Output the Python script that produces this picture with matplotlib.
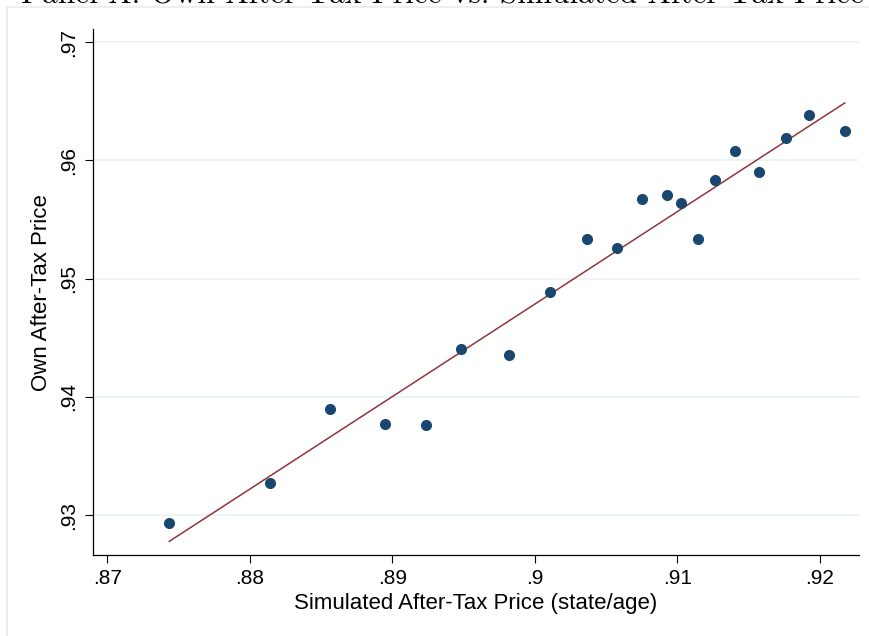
import numpy as np
import matplotlib
matplotlib.use('Agg')
import matplotlib.pyplot as plt
from matplotlib.patches import Rectangle

# binned scatter values
sim_price = [0.87435, 0.88142, 0.88561, 0.88947, 0.89237, 0.89480, 0.89821,
             0.90107, 0.90368, 0.90577, 0.90754, 0.90928, 0.91028, 0.91143,
             0.91267, 0.91407, 0.91575, 0.91763, 0.91926, 0.92175]
own_price = [0.92930, 0.93268, 0.93900, 0.93773, 0.93764, 0.94407, 0.94354,
             0.94890, 0.95338, 0.95259, 0.95676, 0.95708, 0.95643, 0.95333,
             0.95835, 0.96080, 0.95905, 0.96190, 0.96387, 0.96249]

xticks = [0.87, 0.88, 0.89, 0.90, 0.91, 0.92]
xtick_labels = ['.87', '.88', '.89', '.9', '.91', '.92']
yticks = [0.93, 0.94, 0.95, 0.96, 0.97]
ytick_labels = ['.93', '.94', '.95', '.96', '.97']

title = 'Panel A: Own After-Tax Price vs. Simulated After-Tax Price'

navy = '#1a476f'
maroon = '#90353b'
gridc = '#eaf2f3'

plt.rcParams['font.family'] = ['Liberation Sans', 'DejaVu Sans']

fig = plt.figure(figsize=(8.69, 6.36), dpi=100)
fig.patch.set_facecolor('white')

# light outer frame (graph region outline)
fig.patches.append(Rectangle((7.5 / 869, -0.2), 1.5, 1.2 - 6.5 / 636,
                             transform=fig.transFigure, fill=False,
                             edgecolor='#e6eef0', linewidth=1.2))

ax = fig.add_axes([93.3 / 869, 81 / 636, (858.7 - 93.3) / 869, (555 - 29.3) / 636])

x = np.array(sim_price)
y = np.array(own_price)

# linear fit line
b, a = np.polyfit(x, y, 1)
xs = np.array([x.min(), x.max()])
ax.plot(xs, a + b * xs, color=maroon, linewidth=1.1, zorder=2)

ax.plot(x, y, 'o', color=navy, markersize=8, markeredgewidth=0, zorder=3)

ax.set_xlim(0.86902, 0.92273)
ax.set_ylim(0.92662, 0.9711)

ax.set_xticks(xticks)
ax.set_xticklabels(xtick_labels)
ax.set_yticks(yticks)
ax.set_yticklabels(ytick_labels, rotation=90, va='center')

ax.tick_params(direction='out', length=5.8, width=0.8, color='black',
               labelsize=15, pad=4)
ax.tick_params(axis='y', pad=5)

ax.yaxis.grid(True, color=gridc, linewidth=1.2)
ax.set_axisbelow(True)

for s in ['top', 'right']:
    ax.spines[s].set_visible(False)
for s in ['left', 'bottom']:
    ax.spines[s].set_linewidth(0.9)
    ax.spines[s].set_color('black')

ax.set_xlabel('Simulated After-Tax Price (state/age)', fontsize=16, labelpad=4)
ax.set_ylabel('Own After-Tax Price', fontsize=16, labelpad=5)

# title, mostly cut off by the top edge
fig.text(442 / 869, 1 - 4 / 636, title, family='cmr10', fontsize=22.5,
         ha='center', va='baseline')

fig.savefig('out.png', dpi=100)
